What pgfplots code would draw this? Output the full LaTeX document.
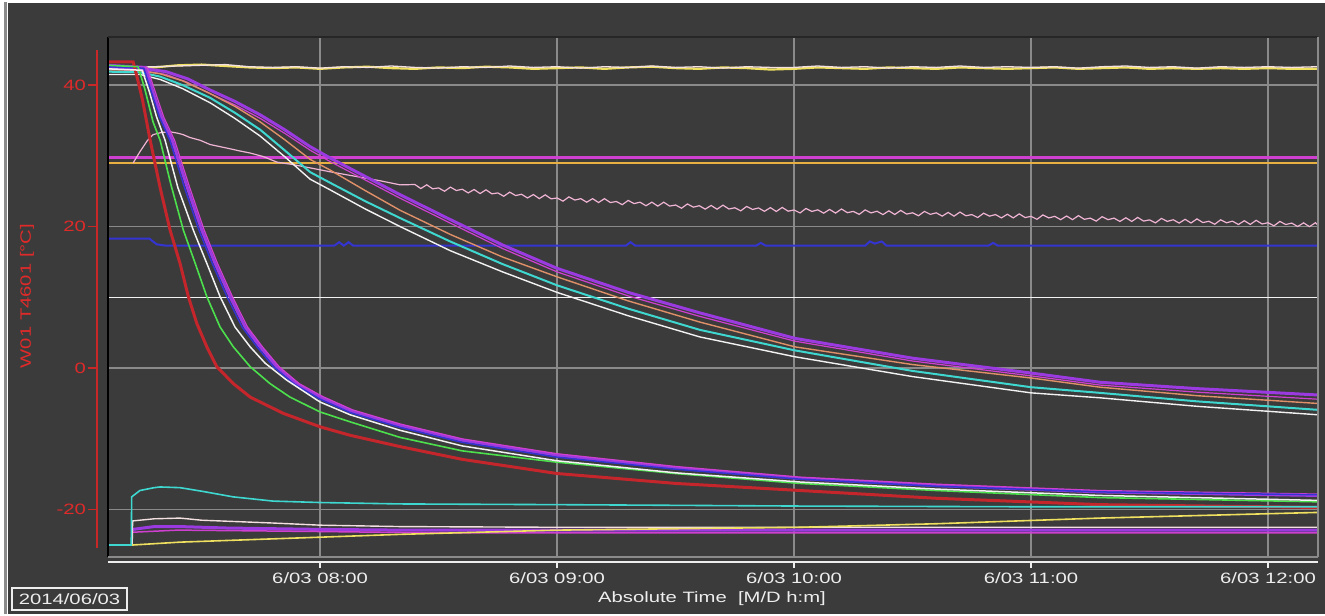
\documentclass[border=0pt]{standalone}
\usepackage{pgfplots}
\pgfplotsset{compat=1.18}
\usepackage{fontspec}
\setmainfont{Liberation Sans}[FakeStretch=1.35]
\definecolor{bg}{HTML}{3B3B3B}
\definecolor{gridgray}{HTML}{8A8A8A}
\definecolor{axred}{HTML}{C82828}
\definecolor{lblred}{HTML}{E02A2A}
\definecolor{txtwhite}{HTML}{EEEEEE}
\definecolor{cRed}{HTML}{C4262C}
\definecolor{cGreen}{HTML}{4CE04C}
\definecolor{cWhite}{HTML}{F2F2F2}
\definecolor{cPurple}{HTML}{9A3AE0}
\definecolor{cBlue}{HTML}{3434D2}
\definecolor{cCyan}{HTML}{3ED8D0}
\definecolor{cOrange}{HTML}{E09068}
\definecolor{cMagenta}{HTML}{D040D0}
\definecolor{cYellow}{HTML}{F0E060}
\definecolor{cGold}{HTML}{E8B040}
\definecolor{cPink}{HTML}{F0B4D4}
\definecolor{cPinkWhite}{HTML}{F4E0E0}
\newcommand{\uifont}{\fontsize{15bp}{18bp}\selectfont}
\begin{document}
\begin{tikzpicture}
\fill[white] (0,0) rectangle (1325bp,614bp);
\fill[bg] (8bp,0) rectangle (1325bp,611bp);
\draw[gridgray, line width=3bp] (5.5bp,0) -- (5.5bp,612bp);
\begin{axis}[
  at={(108bp,57bp)}, anchor=south west,
  width=1210bp, height=520bp, scale only axis,
  xmin=7.105, xmax=12.211, ymin=-26.7, ymax=46.8,
  axis background/.style={fill=bg},
  axis line style={draw=none},
  xtick={8,9,10,11,12},
  xticklabels={6/03 08:00,6/03 09:00,6/03 10:00,6/03 11:00,6/03 12:00},
  ytick={-20,0,20,40},
  yticklabels={-20,0,20,40},
  major tick length=0pt,
  grid=major,
  grid style={gridgray, line width=1.3bp},
  xticklabel style={font=\uifont, text=txtwhite, anchor=center, inner sep=0pt, yshift=-21bp},
  yticklabel style={font=\uifont, text=lblred, anchor=east, inner sep=0pt, xshift=-22bp},
]
% horizontal reference lines
\addplot[cMagenta, line width=3bp] coordinates {(7.105,29.8) (12.211,29.8)};
\addplot[cGold, line width=1.5bp] coordinates {(7.105,29.0) (12.211,29.0)};
\addplot[cWhite, line width=1.6bp] coordinates {(7.105,10.0) (12.211,10.0)};
% blue ~17
\addplot[cBlue, line width=2bp] coordinates {(7.105,18.3) (7.28,18.3) (7.31,17.5) (7.35,17.3) (8.06,17.3) (8.08,17.8) (8.10,17.3) (8.12,17.8) (8.14,17.3) (9.29,17.3) (9.31,17.8) (9.33,17.3) (9.84,17.3) (9.86,17.7) (9.88,17.3) (10.30,17.3) (10.32,17.9) (10.34,17.6) (10.37,17.9) (10.39,17.3) (10.82,17.3) (10.84,17.7) (10.86,17.3) (12.211,17.3)};
% top noisy lines
\addplot[cYellow, line width=2.2bp] coordinates {(7.105,42.3) (7.2,42.4) (7.3,42.5) (7.4,42.8) (7.5,42.9) (7.6,42.7) (7.7,42.5) (7.8,42.4) (7.9,42.5) (8.0,42.3) (8.1,42.5) (8.2,42.6) (8.3,42.4) (8.4,42.3) (8.5,42.5) (8.6,42.4) (8.7,42.6) (8.8,42.5) (8.9,42.3) (9.0,42.4) (9.1,42.5) (9.2,42.3) (9.3,42.5) (9.4,42.6) (9.5,42.4) (9.6,42.3) (9.7,42.5) (9.8,42.4) (9.9,42.2) (10.0,42.3) (10.1,42.5) (10.2,42.4) (10.3,42.3) (10.4,42.5) (10.5,42.4) (10.6,42.3) (10.7,42.5) (10.8,42.4) (10.9,42.3) (11.0,42.4) (11.1,42.5) (11.2,42.3) (11.3,42.4) (11.4,42.5) (11.5,42.3) (11.6,42.4) (11.7,42.3) (11.8,42.4) (11.9,42.3) (12.0,42.4) (12.1,42.3) (12.211,42.3)};
\addplot[cPinkWhite, line width=1.3bp] coordinates {(7.105,42.4) (7.2,42.5) (7.3,42.6) (7.4,42.7) (7.5,42.8) (7.6,42.9) (7.7,42.6) (7.8,42.5) (7.9,42.6) (8.0,42.4) (8.1,42.6) (8.2,42.5) (8.3,42.7) (8.4,42.5) (8.5,42.4) (8.6,42.6) (8.7,42.5) (8.8,42.7) (8.9,42.5) (9.0,42.6) (9.1,42.4) (9.2,42.6) (9.3,42.5) (9.4,42.7) (9.5,42.5) (9.6,42.6) (9.7,42.4) (9.8,42.6) (9.9,42.5) (10.0,42.5) (10.1,42.7) (10.2,42.5) (10.3,42.6) (10.4,42.4) (10.5,42.6) (10.6,42.5) (10.7,42.7) (10.8,42.5) (10.9,42.6) (11.0,42.5) (11.1,42.6) (11.2,42.4) (11.3,42.6) (11.4,42.7) (11.5,42.5) (11.6,42.6) (11.7,42.4) (11.8,42.6) (11.9,42.5) (12.0,42.6) (12.1,42.5) (12.211,42.6)};
% pink noisy
\addplot[cPink, line width=1.2bp] coordinates {(7.211,29.0) (7.24,30.6) (7.27,32.1) (7.295,33.0) (7.33,33.3) (7.367,33.4) (7.40,33.2) (7.422,33.0) (7.45,32.6) (7.494,32.2) (7.536,31.6) (7.578,31.3) (7.62,31.0) (7.66,30.7) (7.705,30.4) (7.76,29.9) (7.819,29.1) (7.88,28.8) (7.958,28.3) (8.05,27.7) (8.15,27.1) (8.25,26.5) (8.338,25.9)
(8.400,25.95) (8.425,25.38) (8.450,25.91) (8.475,25.34) (8.500,25.47) (8.525,25.00) (8.550,25.58) (8.575,25.10) (8.600,25.28) (8.625,24.76)
(8.650,25.24) (8.675,24.67) (8.700,25.20) (8.725,24.63) (8.750,24.76) (8.775,24.29) (8.800,24.87) (8.825,24.39) (8.850,24.57) (8.875,24.05)
(8.900,24.53) (8.925,23.96) (8.950,24.49) (8.975,23.92) (9.000,24.05) (9.025,23.60) (9.050,24.20) (9.075,23.75) (9.100,23.95) (9.125,23.45)
(9.150,23.95) (9.175,23.40) (9.200,23.95) (9.225,23.40) (9.250,23.55) (9.275,23.10) (9.300,23.70) (9.325,23.25) (9.350,23.45) (9.375,22.95)
(9.400,23.45) (9.425,22.90) (9.450,23.45) (9.475,22.90) (9.500,23.05) (9.525,22.60) (9.550,23.20) (9.575,22.75) (9.600,22.95) (9.625,22.47)
(9.650,22.99) (9.675,22.46) (9.700,23.03) (9.725,22.49) (9.750,22.66) (9.775,22.23) (9.800,22.85) (9.825,22.42) (9.850,22.64) (9.875,22.16)
(9.900,22.68) (9.925,22.14) (9.950,22.71) (9.975,22.18) (10.000,22.35) (10.025,21.93) (10.050,22.56) (10.075,22.14) (10.100,22.37) (10.125,21.90)
(10.150,22.43) (10.175,21.91) (10.200,22.49) (10.225,21.97) (10.250,22.15) (10.275,21.73) (10.300,22.36) (10.325,21.94) (10.350,22.17) (10.375,21.70)
(10.400,22.23) (10.425,21.71) (10.450,22.29) (10.475,21.77) (10.500,21.95) (10.525,21.53) (10.550,22.15) (10.575,21.73) (10.600,21.95) (10.625,21.48)
(10.650,22.00) (10.675,21.48) (10.700,22.05) (10.725,21.53) (10.750,21.70) (10.775,21.28) (10.800,21.90) (10.825,21.48) (10.850,21.70) (10.875,21.23)
(10.900,21.75) (10.925,21.23) (10.950,21.80) (10.975,21.28) (11.000,21.45) (11.025,21.03) (11.050,21.65) (11.075,21.23) (11.100,21.45) (11.125,20.98)
(11.150,21.50) (11.175,20.98) (11.200,21.55) (11.225,21.03) (11.250,21.20) (11.275,20.78) (11.300,21.40) (11.325,20.98) (11.350,21.20) (11.375,20.73)
(11.400,21.25) (11.425,20.73) (11.450,21.30) (11.475,20.78) (11.500,20.95) (11.525,20.53) (11.550,21.16) (11.575,20.74) (11.600,20.97) (11.625,20.50)
(11.650,21.03) (11.675,20.51) (11.700,21.09) (11.725,20.57) (11.750,20.75) (11.775,20.33) (11.800,20.96) (11.825,20.54) (11.850,20.77) (11.875,20.30)
(11.900,20.83) (11.925,20.31) (11.950,20.89) (11.975,20.37) (12.000,20.55) (12.025,20.11) (12.050,20.73) (12.075,20.29) (12.100,20.50) (12.125,20.01)
(12.150,20.53) (12.175,19.99) (12.200,20.55) (12.211,20.2)};
% slow group
\addplot[cPurple, line width=3bp] coordinates {(7.105,42.6) (7.262,42.3) (7.35,41.9) (7.44,40.9) (7.536,39.3) (7.64,37.7) (7.747,35.8) (7.85,33.7) (7.958,31.3) (8.042,29.7) (8.19,27.1) (8.338,24.5) (8.549,21.0) (8.77,17.4) (9.0,14.1) (9.3,10.7) (9.603,7.8) (10.004,4.2) (10.5,1.4) (11.0,-0.7) (11.291,-2.0) (11.7,-2.9) (12.211,-3.8)};
\addplot[cMagenta, line width=1.2bp] coordinates {(7.105,42.3) (7.262,42.0) (7.35,41.5) (7.44,40.4) (7.536,38.8) (7.64,37.2) (7.747,35.3) (7.85,33.2) (7.958,30.8) (8.042,29.2) (8.19,26.6) (8.338,24.0) (8.549,20.5) (8.77,16.9) (9.0,13.6) (9.3,10.2) (9.603,7.3) (10.004,3.8) (10.5,1.0) (11.0,-1.1) (11.291,-2.4) (11.7,-3.4) (12.211,-4.4)};
\addplot[cOrange, line width=1.4bp] coordinates {(7.105,42.0) (7.241,42.0) (7.325,41.6) (7.42,40.6) (7.536,38.8) (7.64,37.0) (7.747,34.8) (7.85,32.3) (7.958,29.5) (8.042,28.0) (8.19,25.1) (8.338,22.3) (8.549,18.9) (8.77,15.7) (9.0,12.9) (9.3,9.5) (9.603,6.5) (10.004,3.0) (10.5,0.5) (11.0,-1.4) (11.291,-2.7) (11.7,-3.9) (12.211,-5.0)};
\addplot[cCyan, line width=2bp] coordinates {(7.105,41.9) (7.241,41.8) (7.325,41.2) (7.42,40.0) (7.536,38.2) (7.64,36.1) (7.747,33.7) (7.85,30.8) (7.958,27.7) (8.042,26.2) (8.19,23.6) (8.338,21.2) (8.549,17.9) (8.77,14.7) (9.0,11.7) (9.3,8.4) (9.603,5.4) (10.004,2.5) (10.5,-0.4) (11.0,-2.7) (11.291,-3.5) (11.7,-4.7) (12.211,-5.9)};
\addplot[cWhite, line width=1.4bp] coordinates {(7.105,41.5) (7.241,41.5) (7.325,40.8) (7.42,39.5) (7.536,37.5) (7.64,35.3) (7.747,32.8) (7.85,29.9) (7.958,26.7) (8.042,25.2) (8.19,22.5) (8.338,20.0) (8.549,16.6) (8.77,13.6) (9.0,10.7) (9.3,7.4) (9.603,4.4) (10.004,1.6) (10.5,-1.2) (11.0,-3.5) (11.291,-4.2) (11.7,-5.4) (12.211,-6.6)};
% fast group
\addplot[cPurple, line width=3bp] coordinates {(7.105,42.8) (7.262,42.5) (7.295,39.0) (7.33,35.5) (7.376,32.2) (7.44,25.5) (7.501,19.5) (7.557,14.8) (7.620,10.1) (7.684,5.8) (7.747,3.0) (7.817,0.2) (7.902,-2.2) (8.0,-4.1) (8.127,-6.0) (8.338,-8.1) (8.6,-10.2) (9.0,-12.3) (9.5,-14.1) (10.025,-15.6) (10.6,-16.6) (11.291,-17.5) (12.211,-18.0)};
\addplot[cMagenta, line width=1.2bp] coordinates {(7.105,42.8) (7.27,42.5) (7.305,39.0) (7.34,35.5) (7.386,32.2) (7.45,25.5) (7.511,19.5) (7.567,14.8) (7.630,10.1) (7.694,5.8) (7.757,3.0) (7.827,0.2) (7.912,-2.2) (8.01,-4.0) (8.137,-5.9) (8.338,-7.9) (8.6,-10.0) (9.0,-12.1) (9.5,-13.9) (10.025,-15.4) (10.6,-16.4) (11.291,-17.3) (12.211,-17.8)};
\addplot[cBlue, line width=1.5bp] coordinates {(7.105,42.6) (7.256,42.4) (7.288,39.0) (7.322,35.5) (7.366,32.2) (7.428,25.5) (7.489,19.5) (7.545,14.8) (7.607,10.1) (7.671,5.8) (7.734,3.0) (7.803,0.2) (7.888,-2.2) (8.0,-4.4) (8.127,-6.3) (8.338,-8.4) (8.6,-10.5) (9.0,-12.6) (9.5,-14.3) (10.025,-15.7) (10.6,-16.7) (11.291,-17.5) (12.211,-17.9)};
\addplot[cRed, line width=3bp] coordinates {(7.105,43.3) (7.211,43.3) (7.225,41.5) (7.25,38.0) (7.283,32.2) (7.325,25.5) (7.367,19.5) (7.409,14.8) (7.444,10.1) (7.480,6.3) (7.522,3.0) (7.564,0.2) (7.634,-2.2) (7.705,-4.1) (7.845,-6.4) (8.0,-8.3) (8.127,-9.5) (8.338,-11.1) (8.6,-12.9) (9.0,-14.9) (9.5,-16.3) (10.025,-17.3) (10.6,-18.4) (11.291,-19.3) (12.211,-19.7)};
\addplot[cGreen, line width=1.6bp] coordinates {(7.105,42.8) (7.232,42.6) (7.26,39.5) (7.295,34.8) (7.325,32.2) (7.37,26.0) (7.423,19.5) (7.473,14.8) (7.522,10.1) (7.578,5.8) (7.634,3.0) (7.705,0.2) (7.789,-2.2) (7.873,-4.1) (8.0,-6.2) (8.127,-7.6) (8.338,-9.8) (8.6,-11.7) (9.0,-13.3) (9.5,-14.9) (10.025,-16.3) (10.6,-17.3) (11.291,-18.3) (12.211,-18.9)};
\addplot[cWhite, line width=1.5bp] coordinates {(7.105,42.3) (7.249,42.1) (7.28,39.0) (7.31,35.5) (7.346,32.2) (7.40,25.5) (7.465,19.5) (7.522,14.8) (7.578,10.1) (7.641,5.8) (7.705,3.0) (7.768,0.7) (7.859,-1.7) (8.0,-4.8) (8.127,-6.6) (8.338,-8.8) (8.6,-11.0) (9.0,-13.1) (9.5,-14.8) (10.025,-16.1) (10.6,-17.1) (11.291,-18.0) (12.211,-18.7)};
% bottom group
\addplot[cPurple, line width=3bp] coordinates {(7.209,-22.8) (7.3,-22.4) (7.409,-22.4) (7.6,-22.6) (8.0,-22.8) (8.338,-22.9) (12.211,-22.9)};
\addplot[cMagenta, line width=1.5bp] coordinates {(7.209,-23.2) (7.4,-22.9) (8.0,-23.1) (8.5,-23.3) (12.211,-23.3)};
\addplot[cPinkWhite, line width=1.4bp] coordinates {(7.105,-25.0) (7.207,-25.0) (7.209,-21.6) (7.3,-21.3) (7.409,-21.2) (7.5,-21.5) (7.802,-21.9) (8.0,-22.2) (8.338,-22.4) (9.0,-22.5) (12.211,-22.5)};
\addplot[cYellow, line width=1.6bp] coordinates {(7.105,-25.0) (7.211,-25.0) (7.409,-24.6) (8.0,-23.9) (8.338,-23.5) (9.0,-22.9) (10.025,-22.5) (10.6,-22.0) (11.291,-21.2) (12.211,-20.4)};
\addplot[cCyan, line width=1.6bp] coordinates {(7.105,-25.0) (7.203,-25.0) (7.205,-18.2) (7.24,-17.3) (7.30,-16.9) (7.325,-16.8) (7.409,-16.9) (7.5,-17.4) (7.633,-18.2) (7.802,-18.8) (8.0,-19.0) (8.338,-19.2) (9.0,-19.3) (10.025,-19.5) (11.0,-19.6) (12.211,-19.6)};
\end{axis}
% plot frame
\draw[black, line width=1.6bp] (108bp,57bp) -- (108bp,577bp);
\draw[black!85, line width=1.6bp] (108bp,577bp) -- (1318bp,577bp);
\draw[gridgray, line width=1.3bp] (1318bp,57bp) -- (1318bp,577bp);
\draw[gridgray, line width=1.3bp] (108bp,57bp) -- (1318bp,57bp);
% x axis line and ticks
\draw[txtwhite, line width=1.5bp] (108bp,52bp) -- (1318bp,52bp);
\foreach \xx in {320.1,557.1,794.0,1031.0,1268.0} {\draw[txtwhite, line width=1.5bp] (\xx bp,52bp) -- (\xx bp,46bp);}
% red y axis
\draw[axred, line width=2.4bp] (97bp,66bp) -- (97bp,564bp);
\foreach \yy in {528.9,387.4,245.9,104.4} {\draw[axred, line width=1.5bp] (88bp,\yy bp) -- (97bp,\yy bp);}
\node[rotate=90, text=lblred, font=\uifont, inner sep=0pt] at (27bp,318bp) {W01 T4601 [°C]};
\node[text=txtwhite, font=\uifont, inner sep=0pt] at (712bp,15bp) {Absolute Time\ \ [M/D h:m]};
\node[draw=txtwhite, line width=1.2bp, text=txtwhite, font=\uifont, minimum width=115bp, minimum height=22bp, inner sep=0pt] at (69.5bp,15bp) {2014/06/03};
\end{tikzpicture}
\end{document}
